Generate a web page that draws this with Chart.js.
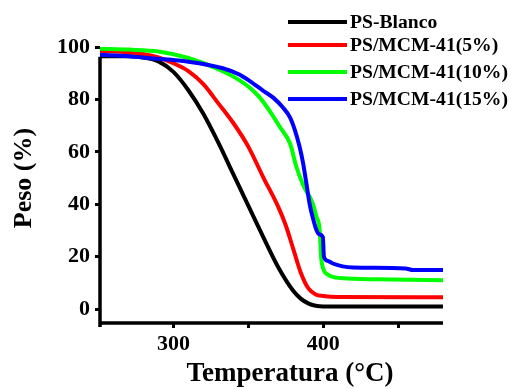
<!DOCTYPE html>
<html>
<head>
<meta charset="utf-8">
<script src="https://cdn.jsdelivr.net/npm/chart.js@4.4.1/dist/chart.umd.min.js"></script>
<style>
    html, body { margin: 0; padding: 0; background: #fff; }
    #tga { display: block; }
</style>
</head>
<body>
<canvas id="tga" width="519" height="389"></canvas>
<script>
const seriesNames = ['PS-Blanco', 'PS/MCM-41(5%)', 'PS/MCM-41(10%)', 'PS/MCM-41(15%)'];
const seriesColors = ['#000000', '#ff0000', '#00ff00', '#0000ff'];

const blancoTemp = [251, 270, 280, 290, 300, 310, 320, 330, 340, 350, 360, 370, 380, 385, 390, 395, 400, 480];
const blancoPeso = [96.5, 96.5, 96, 94.5, 90.5, 83.5, 74.5, 63.5, 51.5, 39.5, 27.5, 16, 7, 4, 2.2, 1.3, 1, 1];

const mcm5Temp = [251, 270, 280, 290, 300, 310, 320, 330, 340, 350, 360, 370, 375, 380, 385, 390, 395, 400, 410, 480];
const mcm5Peso = [98.5, 98, 97.3, 96, 93.8, 90.8, 85.8, 78.5, 71, 62, 50.3, 39, 32, 23, 14, 8, 5.6, 5, 4.6, 4.5];

const mcm10Temp = [251, 270, 290, 310, 330, 345, 352, 358, 365, 371, 378, 382, 386.5, 393, 395.5, 397.7, 398.6, 400, 403, 407, 416, 446, 480];
const mcm10Peso = [99.3, 99, 98.3, 95.8, 91.5, 87, 84, 80.5, 75, 69.6, 63, 54.5, 47.5, 40.3, 35.2, 30, 20, 15.5, 13.2, 12.2, 11.7, 11.3, 11];

const mcm15Temp = [251, 270, 285, 310, 333, 344, 351, 360, 367, 373, 378, 381, 384, 386.5, 388.5, 391, 393, 395.5, 397.5, 399.8, 400.5, 403, 406.5, 413, 420, 455, 460, 480];
const mcm15Peso = [97, 96.5, 95.7, 94.4, 91.9, 89.5, 87, 83.3, 80.5, 77, 73, 68.5, 62.5, 56, 49, 40, 35, 30.2, 28.5, 27.5, 20, 18.4, 17.4, 16.3, 15.9, 15.5, 14.9, 14.9];

const xTicks = [300, 350, 400, 450];
const xTickLabels = ['300', '', '400', ''];
const yTicks = [0, 20, 40, 60, 80, 100];

const temps = [blancoTemp, mcm5Temp, mcm10Temp, mcm15Temp];
const pesos = [blancoPeso, mcm5Peso, mcm10Peso, mcm15Peso];

const serif = "'Liberation Serif', 'Times New Roman', serif";

// axis lines, titles and the legend are painted by hand to match the figure
const figurePlugin = {
    id: 'figure',
    beforeDatasetsDraw(chart) {
        const ctx = chart.ctx;
        const a = chart.chartArea;
        ctx.save();
        ctx.strokeStyle = '#000';
        ctx.lineWidth = 3.5;
        ctx.beginPath();
        ctx.moveTo(a.left, chart.scales.y.getPixelForValue(96.3));
        ctx.lineTo(a.left, a.bottom + 4);
        ctx.moveTo(a.left - 1.5, a.bottom);
        ctx.lineTo(a.right, a.bottom);
        ctx.stroke();

        ctx.fillStyle = '#000';
        ctx.font = 'bold 26px ' + serif;
        ctx.textAlign = 'center';
        ctx.textBaseline = 'middle';
        ctx.save();
        ctx.translate(24, 178);
        ctx.rotate(-Math.PI / 2);
        ctx.fillText('Peso (%)', 0, 0);
        ctx.restore();
        ctx.font = 'bold 27px ' + serif;
        ctx.textBaseline = 'alphabetic';
        ctx.fillText('Temperatura (°C)', 290, 381);
        ctx.restore();
    },
    afterDraw(chart) {
        const ctx = chart.ctx;
        const rows = [22, 45, 72, 99];
        ctx.save();
        ctx.lineWidth = 4;
        ctx.font = 'bold 18px ' + serif;
        ctx.textBaseline = 'middle';
        ctx.textAlign = 'left';
        seriesNames.forEach((name, i) => {
            ctx.strokeStyle = seriesColors[i];
            ctx.beginPath();
            ctx.moveTo(288, rows[i]);
            ctx.lineTo(347, rows[i]);
            ctx.stroke();
            ctx.fillStyle = '#000';
            ctx.save();
            ctx.translate(350, rows[i] + 1.5);
            ctx.scale(1.09, 1);
            ctx.fillText(name, 0, 0);
            ctx.restore();
        });
        ctx.restore();
    }
};

new Chart(document.getElementById('tga'), {
    type: 'line',
    data: {
        datasets: seriesNames.map((name, i) => ({
            label: name,
            data: temps[i].map((t, k) => ({ x: t, y: pesos[i][k] })),
            borderColor: seriesColors[i],
            borderWidth: 4,
            pointRadius: 0,
            cubicInterpolationMode: 'monotone',
            order: 3 - i
        }))
    },
    options: {
        responsive: false,
        animation: false,
        devicePixelRatio: 1,
        layout: { padding: { top: 47, right: 76, left: 0, bottom: 0 } },
        plugins: { legend: { display: false }, tooltip: { enabled: false } },
        scales: {
            x: {
                type: 'linear',
                min: 251,
                max: 480,
                afterFit: s => { s.height = 66; },
                afterBuildTicks: s => { s.ticks = xTicks.map(v => ({ value: v })); },
                ticks: {
                    color: '#000',
                    font: { family: serif, size: 22, weight: 'bold' },
                    padding: 3,
                    maxRotation: 0,
                    callback: v => xTickLabels[xTicks.indexOf(v)]
                },
                grid: { drawOnChartArea: false, color: '#000', lineWidth: 3, tickLength: 5 },
                border: { display: false }
            },
            y: {
                min: -5.3,
                max: 100,
                afterFit: s => { s.width = 100; },
                afterBuildTicks: s => { s.ticks = yTicks.map(v => ({ value: v })); },
                ticks: {
                    color: '#000',
                    font: { family: serif, size: 22, weight: 'bold' },
                    padding: 5
                },
                grid: { drawOnChartArea: false, color: '#000', lineWidth: 3, tickLength: 5 },
                border: { display: false }
            }
        }
    },
    plugins: [figurePlugin]
});
</script>
</body>
</html>
